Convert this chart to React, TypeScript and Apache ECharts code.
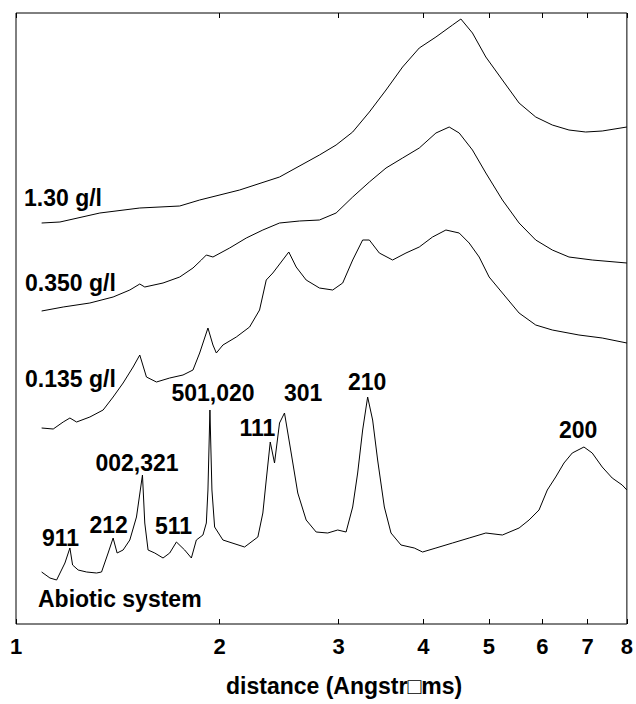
import React, { useEffect, useRef } from "react";
import * as echarts from "echarts";

// distance (Angstroms) vs. scattered intensity (arbitrary units, offset traces)
const distanceTicks = [1, 2, 3, 4, 5, 6, 7, 8];

const trace130: [number, number][] = [
  [1.0912, 401], [1.1613, 402], [1.3303, 411], [1.524, 416], [1.7459, 418],
  [1.8686, 424], [2.1407, 434], [2.4523, 447], [2.8092, 469], [2.9732, 479],
  [3.1457, 492], [3.3294, 512], [3.5239, 534], [3.7283, 557], [3.9459, 576],
  [4.1764, 587], [4.4188, 599], [4.5466, 605], [4.7294, 591], [4.9497, 567],
  [5.2369, 544], [5.5424, 521], [5.866, 507], [6.2064, 499], [6.5686, 494],
  [6.9522, 492], [7.3555, 493], [8.0, 497],
];

const trace350: [number, number][] = [
  [1.0912, 313], [1.1743, 317], [1.2859, 321], [1.3918, 327], [1.4731, 334],
  [1.524, 340], [1.5501, 337], [1.6495, 341], [1.7459, 347], [1.8265, 356],
  [1.8794, 364], [1.9115, 369], [1.955, 367], [2.0692, 376], [2.19, 386],
  [2.317, 394], [2.4523, 401], [2.6246, 403], [2.8092, 404], [2.9732, 411],
  [3.1457, 427], [3.3294, 442], [3.5239, 456], [3.7283, 466], [3.9459, 476],
  [4.1764, 491], [4.3695, 497], [4.5206, 491], [4.7294, 474], [4.9497, 451],
  [5.2369, 424], [5.5424, 401], [5.866, 384], [6.2064, 374], [6.5686, 367],
  [7.1098, 364], [8.0, 361],
];

const trace135: [number, number][] = [
  [1.0912, 196], [1.1351, 195], [1.1743, 202], [1.2014, 206], [1.229, 202],
  [1.2859, 207], [1.3453, 214], [1.3918, 227], [1.4399, 241], [1.4897, 257],
  [1.524, 269], [1.559, 247], [1.613, 242], [1.6875, 246], [1.7655, 249],
  [1.8265, 254], [1.8686, 271], [1.922, 296], [1.955, 279], [1.9777, 271],
  [2.0225, 279], [2.1168, 287], [2.2147, 297], [2.2912, 314], [2.3439, 344],
  [2.397, 351], [2.4664, 362], [2.5309, 372], [2.5954, 357], [2.6851, 344],
  [2.8092, 336], [2.9391, 334], [3.0406, 341], [3.1457, 364], [3.2544, 384],
  [3.3294, 384], [3.4444, 371], [3.6037, 364], [3.7716, 371], [3.9459, 377],
  [4.1284, 387], [4.3208, 394], [4.5206, 391], [4.6767, 381], [4.8384, 367],
  [5.0056, 347], [5.2369, 331], [5.5424, 311], [5.866, 299], [6.2064, 294],
  [6.7957, 289], [7.3555, 286], [8.0, 281],
];

const traceAbiotic: [number, number][] = [
  [1.0912, 52], [1.1225, 46], [1.1483, 44], [1.1812, 61], [1.2014, 76],
  [1.2124, 59], [1.2357, 54], [1.2715, 52], [1.3155, 51], [1.338, 52],
  [1.3684, 71], [1.3918, 86], [1.4109, 71], [1.4399, 74], [1.4731, 84],
  [1.507, 107], [1.538, 149], [1.5501, 101], [1.5676, 74], [1.6037, 71],
  [1.6495, 66], [1.6875, 71], [1.7264, 82], [1.7757, 74], [1.8166, 66],
  [1.8477, 84], [1.8896, 89], [1.9115, 101], [1.922, 134], [1.9351, 214],
  [1.9483, 134], [1.9662, 97], [2.0225, 84], [2.1774, 77], [2.278, 87],
  [2.317, 111], [2.3439, 144], [2.376, 182], [2.4109, 161], [2.4523, 201],
  [2.4941, 211], [2.5516, 171], [2.6095, 131], [2.6851, 104], [2.7779, 92],
  [2.8896, 91], [2.9894, 94], [3.0759, 92], [3.1457, 117], [3.1996, 151],
  [3.2544, 194], [3.3102, 227], [3.3669, 204], [3.4246, 164], [3.5036, 117],
  [3.5842, 91], [3.7081, 79], [3.8795, 76], [3.9904, 72], [4.1764, 76],
  [4.4188, 81], [4.6767, 86], [4.9497, 91], [5.2369, 89], [5.5424, 96],
  [5.734, 104], [5.9321, 114], [6.1018, 134], [6.2784, 147], [6.458, 161],
  [6.6427, 171], [6.9121, 177], [7.1098, 171], [7.3555, 157], [7.6097, 146],
  [7.8727, 139], [8.0, 134],
];

const traceNames = ["1.30 g/l", "0.350 g/l", "0.135 g/l", "Abiotic system"];
const peakNames = ["911", "212", "002,321", "511", "501,020", "111", "301", "210", "200"];
const axisTitle = "distance (Angstr\u25A1ms)";

const FONT = '"Liberation Sans", Arial, Helvetica, sans-serif';

export default function App() {
  const ref = useRef<HTMLDivElement>(null);
  useEffect(() => {
    if (!ref.current) return;
    const chart = echarts.init(ref.current, null, { renderer: "svg" });

    const traces = [trace130, trace350, trace135, traceAbiotic];
    const traceLabelPos: [number, number][] = [
      [24, 197.5], [25, 282.5], [25, 379], [38, 599],
    ];
    const peakLabelPos: [number, number][] = [
      [42, 537.5], [89.5, 525], [95.5, 462.5], [155, 526], [171.5, 393],
      [239.5, 428], [284, 393], [348, 381.5], [559, 430],
    ];

    const txt = (text: string, x: number, y: number, size: number) => ({
      type: "text",
      x,
      y,
      silent: true,
      style: {
        text,
        fill: "#000",
        font: `bold ${size}px ${FONT}`,
        textAlign: "left",
        textVerticalAlign: "middle",
        align: "left",
        verticalAlign: "middle",
      },
    });

    const tickCommon = {
      show: true,
      inside: true,
      length: 5,
      customValues: distanceTicks,
      lineStyle: { color: "#000", width: 1 },
    };

    chart.setOption({
      animation: false,
      backgroundColor: "#fff",
      grid: {
        left: 16,
        right: 8,
        top: 13,
        bottom: 80,
        show: true,
        borderColor: "#000",
        borderWidth: 1,
        backgroundColor: "transparent",
      },
      xAxis: [
        {
          type: "log",
          logBase: 2,
          min: 1,
          max: 8,
          position: "bottom",
          axisLine: { show: false },
          axisTick: tickCommon,
          splitLine: { show: false },
          minorTick: { show: false },
          axisLabel: {
            show: true,
            customValues: distanceTicks,
            color: "#000",
            fontWeight: "bold",
            fontFamily: FONT,
            fontSize: 22,
            margin: 11,
            formatter: (v: number) => String(Math.round(v)),
          },
        },
        {
          type: "log",
          logBase: 2,
          min: 1,
          max: 8,
          position: "top",
          axisLine: { show: false },
          axisTick: tickCommon,
          splitLine: { show: false },
          axisLabel: { show: false },
        },
      ],
      yAxis: {
        type: "value",
        min: 0,
        max: 611,
        show: false,
        splitLine: { show: false },
      },
      series: traces.map((d, i) => ({
        name: traceNames[i],
        type: "line",
        xAxisIndex: 0,
        data: d,
        showSymbol: false,
        symbol: "none",
        smooth: false,
        silent: true,
        lineStyle: { color: "#000", width: 1 },
      })),
      graphic: [
        ...traceNames.map((t, i) => txt(t, traceLabelPos[i][0], traceLabelPos[i][1], 23)),
        ...peakNames.map((t, i) => txt(t, peakLabelPos[i][0], peakLabelPos[i][1], 23)),
        txt(axisTitle, 226, 686, 23),
      ],
    });
    return () => chart.dispose();
  }, []);

  return (
    <div
      ref={ref}
      style={{ position: "absolute", left: 0, top: 0, width: 636, height: 704 }}
    />
  );
}
